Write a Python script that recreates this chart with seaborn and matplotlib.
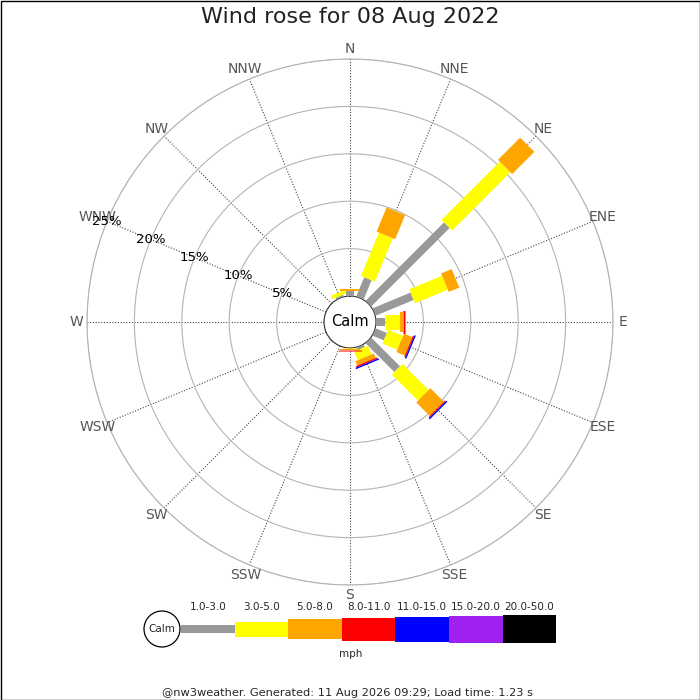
import numpy as np
import pandas as pd
import seaborn as sns
import matplotlib.pyplot as plt
from matplotlib.patches import Circle, Rectangle

# Compass sectors, clockwise from north
directions = ["N", "NNE", "NE", "ENE", "E", "ESE", "SE", "SSE",
              "S", "SSW", "SW", "WSW", "W", "WNW", "NW", "NNW"]

# Speed bands (mph) and their colours
speed_bins = ["1.0-3.0", "3.0-5.0", "5.0-8.0", "8.0-11.0",
              "11.0-15.0", "15.0-20.0", "20.0-50.0"]
band_colours = ["#999999", "#ffff00", "#ffa500", "#ff0000",
                "#0000ff", "#a020f0", "#000000"]

# Percentage of the day in each band, per direction
pct_1_3 = [0.5, 2.2, 11.7, 4.35, 0.95, 1.3, 4.3, 0.3, 0.05, 0, 0, 0, 0, 0, 0, 0.2]
pct_3_5 = [0.05, 4.95, 8.7, 3.75, 1.58, 1.7, 3.9, 1.0, 0.05, 0, 0, 0, 0, 0, 0, 0.4]
pct_5_8 = [0.15, 2.75, 3.3, 1.2, 0.28, 0.95, 2.0, 0.5, 0.12, 0, 0, 0, 0, 0, 0, 0]
pct_8_11 = [0.05, 0, 0, 0, 0.25, 0.13, 0.12, 0.15, 0.12, 0, 0, 0, 0, 0, 0, 0]
pct_11_15 = [0, 0, 0, 0, 0, 0.15, 0.15, 0.15, 0, 0, 0, 0, 0, 0, 0, 0]
pct_15_20 = [0] * 16
pct_20_50 = [0] * 16

ring_ticks = [5, 10, 15, 20, 25]

df = pd.DataFrame({"direction": directions,
                   "1.0-3.0": pct_1_3, "3.0-5.0": pct_3_5,
                   "5.0-8.0": pct_5_8, "8.0-11.0": pct_8_11,
                   "11.0-15.0": pct_11_15, "15.0-20.0": pct_15_20,
                   "20.0-50.0": pct_20_50})
df["theta"] = np.deg2rad(np.arange(len(directions)) * 22.5)

sns.set_style("white")
plt.rcParams["font.family"] = ["DejaVu Sans"]

# bar thickness in pixels for each band (wider as speed rises)
band_px = [8, 15, 20, 23, 25, 27, 28]
px_to_pt = 72 / 100

fig = plt.figure(figsize=(7, 7), dpi=100)
ax = fig.add_axes([87 / 700, 115 / 700, 526 / 700, 526 / 700], projection="polar")
ax.set_theta_zero_location("N")
ax.set_theta_direction(-1)
ax.set_ylim(0, 25)
ax.set_rorigin(-2.74)

ax.set_xticks(df["theta"])
ax.set_xticklabels([])
ax.set_yticks(ring_ticks)
ax.set_yticklabels([])
ax.xaxis.grid(True, color="#444444", linestyle=(0, (1, 1.5)), linewidth=0.8)
ax.yaxis.grid(True, color="#b4b4b4", linestyle="-", linewidth=0.8)
ax.spines["polar"].set_color("#b4b4b4")
ax.spines["polar"].set_linewidth(0.8)
for s in ["inner", "start", "end"]:
    if s in ax.spines:
        ax.spines[s].set_visible(False)

# stacked bars as thick radial strokes
cum = np.zeros(len(df))
for band, colour, px in zip(speed_bins, band_colours, band_px):
    vals = df[band].to_numpy()
    for th, r0, v in zip(df["theta"], cum, vals):
        if v > 0:
            ax.plot([th, th], [r0, r0 + v], color=colour, lw=px * px_to_pt,
                    solid_capstyle="butt", zorder=3)
    cum = cum + vals

# calm circle in the middle
ax.add_patch(Circle((0.5, 0.5), 25 / 526, transform=ax.transAxes,
                    facecolor="white", edgecolor="#a0a0a0", lw=0.9, zorder=4))
ax.text(0.5, 0.5, "Calm", transform=ax.transAxes, ha="center", va="center",
        fontsize=10.5, color="black", zorder=5)

# compass labels
for th, name in zip(df["theta"], df["direction"]):
    ax.text(th, 26.1, name, ha="center", va="center", fontsize=10,
            color="#555555", clip_on=False)

# ring labels along WNW
wnw = df.loc[df["direction"] == "WNW", "theta"].iloc[0]
for r in ring_ticks:
    ax.text(wnw, r, f"{r}%", ha="center", va="center", fontsize=9.5,
            color="black", zorder=6)

fig.text(0.5, 1 - 17 / 700, "Wind rose for 08 Aug 2022", ha="center",
         va="center", fontsize=16, color="#222222")

# legend strip along the bottom (pixel coordinates)
leg = fig.add_axes([0, 0, 1, 1])
leg.set_xlim(0, 700)
leg.set_ylim(700, 0)
leg.axis("off")
leg.patch.set_alpha(0)
seg_w = 53.6
x_start = 181
y_mid = 629
leg.add_patch(Circle((162, y_mid), 18, facecolor="white", edgecolor="black", lw=0.9))
leg.text(162, y_mid, "Calm", ha="center", va="center", fontsize=7.5)
for i, (band, colour, px) in enumerate(zip(speed_bins, band_colours, band_px)):
    x0 = x_start + i * seg_w
    leg.add_patch(Rectangle((x0, y_mid - px / 2), seg_w, px, facecolor=colour,
                            edgecolor="none"))
    leg.text(x0 + seg_w / 2, 607, band, ha="center", va="center", fontsize=7.5)
leg.text(351, 654, "mph", ha="center", va="center", fontsize=7.5)

leg.text(348, 693, "@nw3weather. Generated: 11 Aug 2026 09:29; Load time: 1.23 s",
         ha="center", va="center", fontsize=8.2)

# thin frame around the image
leg.add_patch(Rectangle((0.5, 0.5), 699, 699, facecolor="none",
                        edgecolor="black", lw=1))

fig.savefig("out.png", dpi=100, facecolor="white")
